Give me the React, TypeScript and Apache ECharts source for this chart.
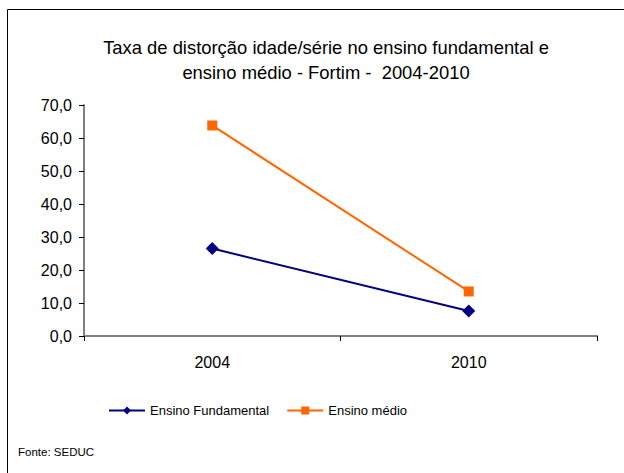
import React, { useEffect, useRef } from "react";
import * as echarts from "echarts";

const titleLines = ["Taxa de distorção idade/série no ensino fundamental e", "ensino médio - Fortim -  2004-2010"];
const categories = ["2004", "2010"];
const fundamental = [26.5, 7.6];
const medio = [63.8, 13.5];
const seriesNames = ["Ensino Fundamental", "Ensino médio"];
const source = "Fonte: SEDUC";

export default function App() {
  const ref = useRef<HTMLDivElement>(null);
  useEffect(() => {
    const chart = echarts.init(ref.current!, null, { renderer: "svg" });
    const font = "Liberation Sans, Arial, sans-serif";
    chart.setOption({
      animation: false,
      backgroundColor: "#ffffff",
      title: {
        text: titleLines.join("\n"),
        left: 321,
        textAlign: "center",
        top: 30,
        textStyle: { fontFamily: font, fontSize: 18.4, fontWeight: "normal", color: "#000", lineHeight: 25 },
      },
      graphic: [
        {
          type: "rect",
          shape: { x: 7.5, y: 9.5, width: 700, height: 600 },
          style: { fill: "none", stroke: "#000", lineWidth: 1 },
          silent: true,
        },
        {
          type: "text",
          left: 18,
          top: 446,
          style: { text: source, fontFamily: font, fontSize: 11.5, fill: "#000" },
        },
      ],
      legend: {
        data: seriesNames,
        top: 399,
        left: 103,
        itemWidth: 36,
        itemHeight: 10,
        itemGap: 17,
        textStyle: { fontFamily: font, fontSize: 13, color: "#000" },
      },
      grid: { left: 84, right: 27, top: 105, bottom: 137 },
      xAxis: {
        type: "category",
        data: categories,
        boundaryGap: true,
        axisLine: { lineStyle: { color: "#808080", width: 2 } },
        axisTick: { show: true, length: 5, lineStyle: { color: "#000" } },
        axisLabel: { fontFamily: font, fontSize: 16, color: "#000", margin: 18 },
      },
      yAxis: {
        type: "value",
        min: 0,
        max: 70,
        interval: 10,
        axisLine: { show: true, lineStyle: { color: "#808080", width: 2 } },
        axisTick: { show: true, length: 5, lineStyle: { color: "#000" } },
        splitLine: { show: false },
        axisLabel: {
          fontFamily: font,
          fontSize: 16,
          color: "#000",
          margin: 12,
          formatter: (v: number) => v.toFixed(1).replace(".", ","),
        },
      },
      series: [
        {
          name: seriesNames[0],
          type: "line",
          data: fundamental,
          symbol: "diamond",
          symbolSize: 13,
          itemStyle: { color: "#000080" },
          lineStyle: { color: "#000080", width: 2 },
        },
        {
          name: seriesNames[1],
          type: "line",
          data: medio,
          symbol: "rect",
          symbolSize: 10,
          itemStyle: { color: "#FF6600" },
          lineStyle: { color: "#FF6600", width: 2 },
        },
      ],
    });
    return () => chart.dispose();
  }, []);
  return (
    <div
      ref={ref}
      style={{ position: "fixed", left: 0, top: 0, width: 624, height: 473, overflow: "hidden" }}
    />
  );
}
